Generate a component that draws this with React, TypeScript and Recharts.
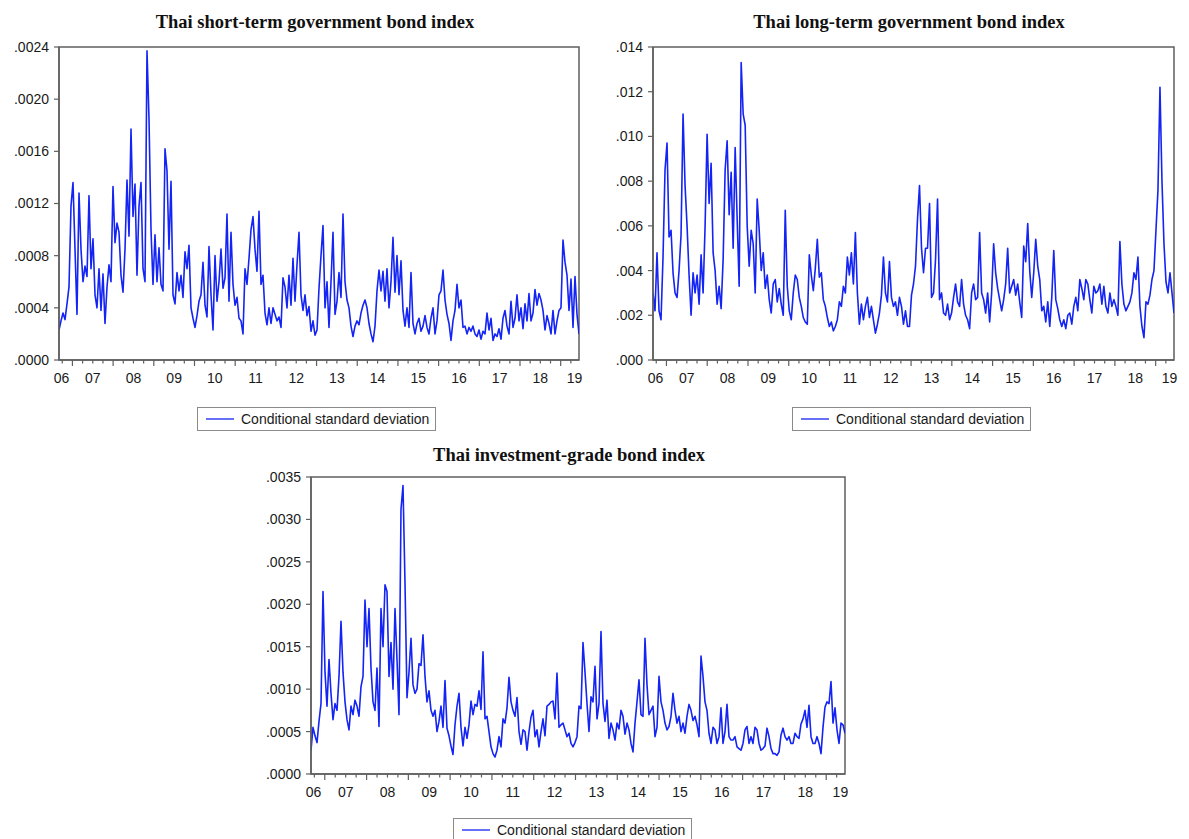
import React from 'react';
import { LineChart, Line, XAxis, YAxis, Legend, ReferenceArea } from 'recharts';

// sample runs from Sept 2006 to mid 2019, evenly spaced observations
const T0 = 2006.67;
const T1 = 2019.45;

const yearLabels = ['06', '07', '08', '09', '10', '11', '12', '13', '14', '15', '16', '17', '18', '19'];
const yearLabelAt = [2006.73, 2007.5, 2008.5, 2009.5, 2010.5, 2011.5, 2012.5, 2013.5, 2014.5, 2015.5, 2016.5, 2017.5, 2018.5, 2019.34];

const seriesName = 'Conditional standard deviation';

// short-term gov bond index, units of 0.0001
const shortTermSd = [
  2.3, 3.0, 3.6, 3.1, 4.3, 5.6, 11.8, 13.6, 8.5, 3.5,
  12.8, 8.5, 6.0, 7.2, 6.4, 12.6, 7.0, 9.3, 5.0, 4.0,
  7.0, 3.8, 6.6, 2.8, 5.6, 7.3, 6.0, 13.3, 9.0, 10.5,
  9.8, 6.5, 5.2, 8.5, 13.8, 9.5, 17.7, 11.0, 13.5, 6.5,
  11.8, 13.6, 7.0, 6.0, 23.7, 18.5, 10.0, 5.8, 9.6, 6.0,
  8.6, 5.8, 5.3, 16.2, 14.5, 8.5, 13.7, 5.0, 4.3, 6.7,
  5.3, 6.5, 4.8, 8.3, 7.0, 8.8, 4.0, 3.2, 2.5, 3.4,
  4.5, 5.0, 7.5, 4.2, 3.3, 8.7, 5.0, 2.3, 8.0, 4.5,
  6.0, 8.5, 5.5, 6.3, 11.2, 4.5, 9.8, 5.8, 4.2, 4.8,
  3.2, 3.0, 2.0, 7.0, 5.8, 7.8, 10.0, 11.0, 8.5, 6.8,
  11.4, 5.8, 6.5, 3.6, 2.7, 4.0, 2.8, 4.0, 3.5, 3.0,
  3.3, 2.5, 6.3, 5.6, 4.0, 6.5, 4.2, 7.8, 4.5, 7.3,
  9.8, 5.0, 3.8, 5.0, 3.4, 4.1, 2.2, 3.0, 1.9, 2.3,
  5.5, 8.0, 10.3, 4.0, 6.0, 2.5, 6.0, 9.8, 3.5, 4.5,
  6.7, 4.8, 11.2, 6.0, 4.6, 4.0, 2.6, 1.8, 2.6, 3.0,
  2.7, 3.6, 4.2, 4.6, 4.0, 2.8, 2.0, 1.4, 2.6, 5.3,
  6.9, 5.3, 6.8, 4.5, 7.0, 4.0, 6.0, 9.4, 5.2, 8.0,
  5.0, 7.6, 3.8, 2.6, 4.0, 2.5, 6.7, 2.8, 2.0, 2.8,
  3.2, 2.2, 2.6, 3.4, 2.5, 2.0, 3.2, 4.0, 2.0, 3.0,
  5.0, 5.3, 6.9, 4.6, 3.5, 2.8, 1.5, 3.0, 3.8, 5.8,
  4.0, 4.6, 2.5, 2.6, 2.0, 2.5, 2.2, 2.6, 2.0, 1.8,
  2.3, 1.6, 2.2, 2.0, 3.6, 2.3, 3.2, 1.5, 2.0, 1.8,
  2.4, 1.6, 3.2, 3.8, 2.6, 2.0, 4.5, 2.5, 3.2, 5.0,
  3.0, 4.0, 2.4, 4.3, 3.0, 5.1, 3.0, 3.6, 5.4, 4.2,
  5.1, 4.6, 3.8, 2.3, 3.4, 2.8, 2.0, 3.8, 2.0, 3.0,
  3.8, 4.0, 9.2, 7.5, 6.5, 3.8, 6.2, 2.5, 6.4, 3.5, 2.0,
];

// long-term gov bond index, units of 0.001
const longTermSd = [
  3.0, 2.2, 4.8, 2.2, 1.8, 4.6, 8.5, 9.7, 5.5, 5.8,
  3.9, 3.0, 2.8, 4.0, 5.6, 11.0, 7.8, 6.0, 3.8, 2.0,
  3.9, 3.0, 3.8, 2.5, 4.7, 3.0, 6.0, 10.1, 7.0, 8.8,
  4.8, 4.0, 2.5, 3.3, 2.3, 4.5, 8.5, 9.8, 6.5, 8.4,
  5.0, 9.5, 6.3, 3.3, 13.3, 11.0, 10.5, 6.0, 4.2, 5.8,
  5.2, 3.0, 7.2, 5.8, 4.0, 4.8, 3.2, 3.8, 2.7, 2.1,
  3.4, 3.6, 2.6, 3.2, 2.5, 2.0, 6.7, 3.3, 2.2, 1.8,
  3.0, 3.8, 3.6, 2.8, 2.4, 1.9, 1.7, 1.6, 4.7, 3.8,
  3.1, 4.1, 5.4, 3.7, 3.9, 2.7, 2.4, 1.9, 1.5, 1.7,
  1.3, 1.5, 1.8, 2.6, 2.4, 3.3, 3.0, 4.6, 3.8, 4.8,
  3.4, 5.7, 3.0, 1.6, 2.5, 1.8, 2.4, 2.8, 1.9, 2.4,
  1.8, 1.2, 1.6, 2.1, 2.9, 4.6, 3.0, 2.6, 4.4, 2.8,
  2.4, 2.6, 2.0, 2.8, 2.4, 1.6, 2.2, 1.5, 1.5, 2.9,
  3.4, 4.2, 6.3, 7.8, 5.0, 3.9, 5.0, 5.0, 7.0, 2.8,
  3.0, 4.5, 7.2, 2.7, 3.0, 2.1, 2.0, 2.5, 1.8, 2.1,
  2.8, 3.4, 2.6, 2.4, 3.6, 2.5, 2.0, 1.8, 1.4, 3.0,
  3.4, 2.7, 2.8, 5.7, 3.0, 2.7, 2.1, 3.0, 1.7, 3.0,
  5.2, 3.9, 3.2, 2.7, 2.2, 2.7, 3.4, 5.0, 3.0, 3.3,
  3.6, 2.9, 3.4, 2.6, 1.9, 5.1, 4.4, 6.1, 4.0, 2.8,
  3.9, 5.4, 4.2, 3.6, 2.2, 2.4, 1.7, 2.6, 1.5, 2.8,
  4.9, 2.7, 2.3, 1.8, 1.5, 1.8, 1.4, 2.0, 2.1, 1.6,
  2.4, 2.8, 2.2, 3.6, 3.2, 2.7, 3.6, 3.4, 2.7, 2.1,
  3.3, 3.0, 3.1, 3.4, 2.5, 3.3, 2.4, 2.1, 3.0, 2.4,
  2.7, 2.4, 2.0, 5.3, 3.4, 2.5, 2.2, 2.4, 2.6, 3.0,
  3.9, 3.6, 4.6, 2.4, 1.5, 1.0, 2.6, 2.5, 2.9, 3.6,
  4.0, 5.8, 7.6, 12.2, 8.0, 5.2, 3.5, 3.0, 3.9, 3.0, 2.1,
];

// investment-grade bond index, units of 0.0001
const investmentGradeSd = [
  2.8, 5.5, 4.5, 3.7, 6.2, 8.3, 21.5, 12.0, 8.0, 13.5,
  9.5, 6.4, 8.3, 7.5, 11.5, 18.0, 12.0, 8.5, 6.4, 5.2,
  8.0, 7.0, 8.7, 8.0, 6.8, 10.3, 11.5, 20.5, 15.0, 19.5,
  12.5, 8.5, 7.5, 12.5, 5.6, 19.5, 15.0, 22.3, 21.5, 11.5,
  15.5, 10.0, 19.5, 13.5, 7.0, 31.2, 34.0, 22.5, 9.0, 12.0,
  16.0, 10.5, 9.5, 10.0, 13.0, 12.8, 16.4, 11.5, 8.5, 9.8,
  7.5, 6.8, 7.5, 5.0, 6.2, 8.0, 5.5, 11.0, 5.4, 4.5,
  3.3, 2.3, 5.8, 8.0, 9.5, 5.5, 3.3, 5.5, 4.2, 5.8,
  8.6, 7.0, 8.2, 8.0, 9.8, 7.6, 14.4, 6.5, 6.8, 5.0,
  3.2, 2.4, 2.0, 2.8, 4.4, 3.2, 6.5, 6.0, 7.8, 11.4,
  8.5, 7.5, 6.8, 9.0, 5.0, 3.5, 5.2, 5.0, 2.8, 5.0,
  6.7, 7.5, 4.4, 5.2, 3.2, 5.0, 6.5, 4.5, 8.0, 8.2,
  8.5, 8.6, 6.5, 11.9, 5.5, 5.8, 6.0, 5.2, 4.4, 4.8,
  3.6, 3.2, 3.7, 4.4, 8.0, 7.7, 15.5, 12.0, 8.3, 5.0,
  9.1, 8.5, 12.7, 6.5, 8.3, 16.8, 8.3, 6.2, 8.7, 4.2,
  6.0, 5.2, 4.0, 6.0, 5.3, 7.5, 6.8, 4.7, 6.0, 5.2,
  3.6, 2.6, 6.0, 8.5, 11.1, 7.0, 6.8, 16.0, 10.5, 7.0,
  7.5, 8.0, 4.4, 5.5, 11.5, 8.5, 7.5, 6.0, 5.2, 5.6,
  6.8, 9.5, 7.5, 6.0, 6.8, 5.0, 6.0, 4.8, 6.8, 8.2,
  7.5, 6.3, 6.8, 5.8, 4.4, 13.9, 11.5, 8.5, 7.5, 4.8,
  3.6, 5.5, 5.2, 3.6, 4.4, 7.8, 3.6, 5.0, 8.2, 4.4,
  4.0, 4.0, 4.4, 3.2, 3.0, 2.8, 3.6, 5.2, 5.6, 3.6,
  4.4, 3.6, 5.5, 5.2, 3.6, 2.8, 3.0, 3.3, 5.4, 4.4,
  3.0, 2.4, 2.4, 2.2, 2.6, 4.6, 5.4, 4.4, 4.0, 4.4,
  3.6, 3.6, 4.8, 4.4, 4.2, 5.9, 6.5, 7.5, 5.5, 8.1,
  4.4, 3.6, 3.6, 4.4, 3.6, 2.4, 5.5, 7.9, 8.5, 8.3,
  10.9, 6.0, 7.8, 5.2, 3.6, 6.0, 5.8, 4.8,
];

const BLUE = '#1424f4';
const AXIS = '#5f5f5f';
const TEXT = '#1a1a1a';
const SANS = '"Liberation Sans", Arial, Helvetica, sans-serif';
const SERIF = '"Liberation Serif", "Times New Roman", Times, serif';

// quarterly tick marks, longer ones at the start of each year
const quarterTicks: number[] = [];
for (let q = 2006.75; q <= 2019.25 + 1e-9; q += 0.25) quarterTicks.push(Math.round(q * 100) / 100);
const xTicks = Array.from(new Set([...quarterTicks, ...yearLabelAt])).sort((a, b) => a - b);

const toRows = (values: number[]) =>
  values.map((v, i) => ({ t: T0 + (i * (T1 - T0)) / (values.length - 1), v }));

function TimeTick(props: any) {
  const { x, y, payload } = props;
  const val = payload.value;
  const li = yearLabelAt.findIndex((p) => Math.abs(p - val) < 1e-6);
  const isQuarter = quarterTicks.some((q) => Math.abs(q - val) < 1e-6);
  const isYear = isQuarter && Math.abs(val - Math.round(val)) < 1e-6;
  return (
    <g>
      {isQuarter && <line x1={x} x2={x} y1={y} y2={y + (isYear ? 6 : 3.5)} stroke={AXIS} strokeWidth={1.2} />}
      {li >= 0 && (
        <text x={x} y={y + 23} textAnchor="middle" fontSize={14} fontFamily={SANS} fill={TEXT}>
          {yearLabels[li]}
        </text>
      )}
    </g>
  );
}

function SdLegend() {
  return (
    <div
      style={{
        display: 'flex',
        alignItems: 'center',
        width: 'fit-content',
        height: 24,
        boxSizing: 'border-box',
        border: '1px solid #8a8a8a',
        padding: '0 6px 0 8px',
        background: '#fff',
        fontFamily: SANS,
        fontSize: 14,
        color: TEXT,
        lineHeight: '22px',
        whiteSpace: 'nowrap',
      }}
    >
      <svg width={28} height={4} style={{ display: 'block' }}>
        <line x1={0} y1={2} x2={28} y2={2} stroke={BLUE} strokeWidth={1.3} />
      </svg>
      <span style={{ marginLeft: 7 }}>{seriesName}</span>
    </div>
  );
}

type PanelProps = {
  left: number;
  top: number;
  width: number;
  height: number;
  yAxisWidth: number;
  marginTop: number;
  marginRight: number;
  marginBottom: number;
  xAxisHeight: number;
  legendLeft: number;
  values: number[];
  yMax: number;
  yTicks: number[];
  yFormat: (v: number) => string;
};

function Panel(p: PanelProps) {
  const rows = toRows(p.values);
  return (
    <div style={{ position: 'absolute', left: p.left, top: p.top }}>
      <LineChart
        width={p.width}
        height={p.height}
        data={rows}
        margin={{ top: p.marginTop, right: p.marginRight, bottom: p.marginBottom, left: 0 }}
      >
        <XAxis
          dataKey="t"
          type="number"
          domain={[T0, T1]}
          allowDataOverflow
          ticks={xTicks}
          interval={0}
          tick={(tp: any) => <TimeTick {...tp} />}
          tickLine={false}
          tickSize={0}
          tickMargin={0}
          height={p.xAxisHeight}
          axisLine={{ stroke: AXIS, strokeWidth: 1.5 }}
        />
        <YAxis
          type="number"
          domain={[0, p.yMax]}
          allowDataOverflow
          ticks={p.yTicks}
          interval={0}
          width={p.yAxisWidth}
          tickSize={5}
          tickMargin={5}
          tickFormatter={p.yFormat}
          tick={{ fontSize: 14, fill: TEXT, fontFamily: SANS }}
          tickLine={{ stroke: AXIS, strokeWidth: 1.2 }}
          axisLine={{ stroke: AXIS, strokeWidth: 1.5 }}
        />
        <ReferenceArea
          x1={T0}
          x2={T1}
          y1={0}
          y2={p.yMax}
          fill="none"
          fillOpacity={0}
          stroke={AXIS}
          strokeWidth={1.5}
          ifOverflow="visible"
        />
        <Line
          type="linear"
          dataKey="v"
          name={seriesName}
          stroke={BLUE}
          strokeWidth={1.6}
          strokeLinejoin="round"
          dot={false}
          activeDot={false}
          isAnimationActive={false}
        />
        <Legend
          verticalAlign="bottom"
          align="left"
          content={() => <SdLegend />}
          wrapperStyle={{ left: p.legendLeft, width: 'auto' }}
        />
      </LineChart>
    </div>
  );
}

function Title({ text, centerX, top }: { text: string; centerX: number; top: number }) {
  return (
    <div
      style={{
        position: 'absolute',
        left: centerX - 250,
        top,
        width: 500,
        textAlign: 'center',
        fontFamily: SERIF,
        fontWeight: 'bold',
        fontSize: 18.5,
        lineHeight: '20px',
        color: '#111',
      }}
    >
      {text}
    </div>
  );
}

const fmt4 = (v: number) => '.' + String(v).padStart(4, '0');
const fmt3 = (v: number) => '.' + String(v).padStart(3, '0');

export default function App() {
  return (
    <div
      style={{
        position: 'absolute',
        left: 0,
        top: 0,
        width: 1189,
        height: 839,
        overflow: 'hidden',
        background: '#fff',
      }}
    >
      <Title text="Thai short-term government bond index" centerX={315} top={12} />
      <Title text="Thai long-term government bond index" centerX={909} top={12} />
      <Title text="Thai investment-grade bond index" centerX={569} top={445} />

      <Panel
        left={0}
        top={0}
        width={600}
        height={440}
        yAxisWidth={59}
        marginTop={47}
        marginRight={21}
        marginBottom={9}
        xAxisHeight={47}
        legendLeft={197}
        values={shortTermSd}
        yMax={24}
        yTicks={[0, 4, 8, 12, 16, 20, 24]}
        yFormat={fmt4}
      />
      <Panel
        left={595}
        top={0}
        width={594}
        height={440}
        yAxisWidth={58}
        marginTop={47}
        marginRight={15}
        marginBottom={9}
        xAxisHeight={47}
        legendLeft={197}
        values={longTermSd}
        yMax={14}
        yTicks={[0, 2, 4, 6, 8, 10, 12, 14]}
        yFormat={fmt3}
      />
      <Panel
        left={250}
        top={430}
        width={620}
        height={412}
        yAxisWidth={61}
        marginTop={47}
        marginRight={25}
        marginBottom={0}
        xAxisHeight={44}
        legendLeft={203}
        values={investmentGradeSd}
        yMax={35}
        yTicks={[0, 5, 10, 15, 20, 25, 30, 35]}
        yFormat={fmt4}
      />
    </div>
  );
}
